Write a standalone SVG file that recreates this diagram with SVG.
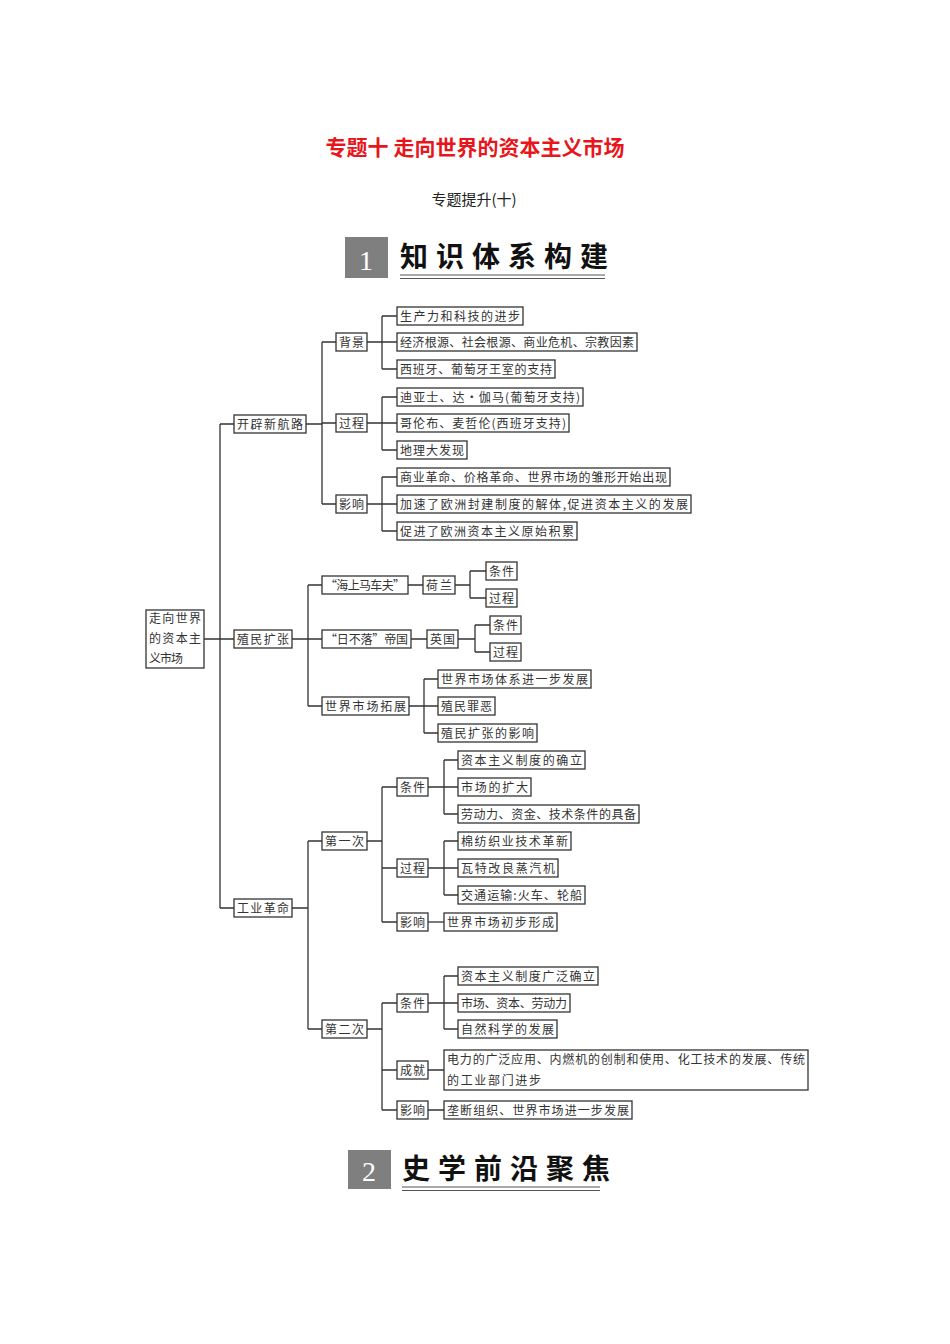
<svg xmlns="http://www.w3.org/2000/svg" width="950" height="1344" viewBox="0 0 950 1344">
<style>
.b{fill:#fff;stroke:#333;stroke-width:1.3}
.t{font-family:"Noto Sans CJK SC","Noto Sans CJK JP",sans-serif;font-size:12px;fill:#333}
.c{fill:none;stroke:#333;stroke-width:1.3}
.h{font-family:"Noto Sans CJK SC",sans-serif;font-size:28px;font-weight:bold;fill:#111;letter-spacing:8px}
</style>
<rect width="950" height="1344" fill="#fff"/>
<text x="475" y="155" text-anchor="middle" font-family="Noto Sans CJK SC,sans-serif" font-size="21" font-weight="bold" fill="#e8151b">专题十  走向世界的资本主义市场</text>
<text x="474" y="205" text-anchor="middle" font-family="Noto Sans CJK SC,sans-serif" font-size="15" fill="#222">专题提升(十)</text>
<g id="header1">
<rect x="345" y="237" width="43" height="41" fill="#7f7f7f"/>
<text x="366" y="270" text-anchor="middle" font-family="Liberation Serif,serif" font-size="28" fill="#fff">1</text>
<text x="400" y="267" class="h">知识体系构建</text>
<line x1="400" y1="275" x2="605" y2="275" stroke="#555" stroke-width="1.2"/>
<line x1="400" y1="278.5" x2="605" y2="278.5" stroke="#555" stroke-width="1.2"/>
</g>
<g id="header2">
<rect x="348" y="1150" width="43" height="39" fill="#7f7f7f"/>
<text x="369" y="1181" text-anchor="middle" font-family="Liberation Serif,serif" font-size="28" fill="#fff">2</text>
<text x="402" y="1179" class="h">史学前沿聚焦</text>
<line x1="402" y1="1187" x2="600" y2="1187" stroke="#555" stroke-width="1.2"/>
<line x1="402" y1="1190.5" x2="600" y2="1190.5" stroke="#555" stroke-width="1.2"/>
</g>
<g id="connectors" class="c">
<path d="M204 639H220M220 424V908M220 424H234M220 639H234M220 908H234"/>
<path d="M306 424H322M322 342V504M322 342H336M322 504H336M322 423H336"/>
<path d="M367 342H382M382 316V369M382 316H397M382 342H397M382 369H397"/>
<path d="M367 423H382M382 397V450M382 397H397M382 423H397M382 450H397"/>
<path d="M367 504H382M382 477V531M382 477H397M382 504H397M382 531H397"/>
<path d="M292 639H308M308 585V706M308 585H322M308 639H322M308 706H322"/>
<path d="M408 585H423M455 585H470M470 571V598M470 571H486M470 598H486"/>
<path d="M411 639H427M458 639H475M475 625V652M475 625H490M475 652H490"/>
<path d="M409 706H424M424 679V733M424 679H438M424 706H438M424 733H438"/>
<path d="M292 908H308M308 841V1029M308 841H322M308 1029H322"/>
<path d="M367 841H382M382 787V922M382 787H397M382 868H397M382 922H397"/>
<path d="M428 787H444M444 760V814M444 760H458M444 787H458M444 814H458"/>
<path d="M428 868H444M444 841V895M444 841H458M444 868H458M444 895H458"/>
<path d="M428 922H444"/>
<path d="M367 1029H382M382 1003V1110M382 1003H397M382 1070H397M382 1110H397"/>
<path d="M428 1003H444M444 976V1029M444 976H458M444 1003H458M444 1029H458"/>
<path d="M428 1070H444M428 1110H444"/>
</g>
<g id="root"><rect class="b" x="146" y="610" width="58" height="58"/><text class="t" x="149" y="623" textLength="52">走向世界</text><text class="t" x="149" y="643" textLength="52">的资本主</text><text class="t" x="149" y="663" textLength="34">义市场</text></g>
<g id="n1"><rect class="b" x="234" y="415" width="72" height="18"/><text class="t" x="237" y="428.5" textLength="66">开辟新航路</text></g>
<g id="n2"><rect class="b" x="234" y="630" width="58" height="18"/><text class="t" x="237" y="643.5" textLength="52">殖民扩张</text></g>
<g id="n3"><rect class="b" x="234" y="899" width="58" height="18"/><text class="t" x="237" y="912.5" textLength="52">工业革命</text></g>
<g id="n11"><rect class="b" x="336" y="333" width="31" height="18"/><text class="t" x="339" y="346.5" textLength="25">背景</text></g>
<g id="n12"><rect class="b" x="336" y="414" width="31" height="18"/><text class="t" x="339" y="427.5" textLength="25">过程</text></g>
<g id="n13"><rect class="b" x="336" y="495" width="31" height="18"/><text class="t" x="339" y="508.5" textLength="25">影响</text></g>
<g id="l1"><rect class="b" x="397" y="307" width="126" height="18"/><text class="t" x="400" y="320.5" textLength="120">生产力和科技的进步</text></g>
<g id="l2"><rect class="b" x="397" y="333" width="240" height="18"/><text class="t" x="400" y="346.5" textLength="234">经济根源、社会根源、商业危机、宗教因素</text></g>
<g id="l3"><rect class="b" x="397" y="360" width="158" height="18"/><text class="t" x="400" y="373.5" textLength="152">西班牙、葡萄牙王室的支持</text></g>
<g id="l4"><rect class="b" x="397" y="388" width="186" height="18"/><text class="t" x="400" y="401.5" textLength="180">迪亚士、达・伽马(葡萄牙支持)</text></g>
<g id="l5"><rect class="b" x="397" y="414" width="172" height="18"/><text class="t" x="400" y="427.5" textLength="166">哥伦布、麦哲伦(西班牙支持)</text></g>
<g id="l6"><rect class="b" x="397" y="441" width="70" height="18"/><text class="t" x="400" y="454.5" textLength="64">地理大发现</text></g>
<g id="l7"><rect class="b" x="397" y="468" width="273" height="18"/><text class="t" x="400" y="481.5" textLength="267">商业革命、价格革命、世界市场的雏形开始出现</text></g>
<g id="l8"><rect class="b" x="397" y="495" width="294" height="18"/><text class="t" x="400" y="508.5" textLength="288">加速了欧洲封建制度的解体,促进资本主义的发展</text></g>
<g id="l9"><rect class="b" x="397" y="522" width="180" height="18"/><text class="t" x="400" y="535.5" textLength="174">促进了欧洲资本主义原始积累</text></g>
<g id="n21"><rect class="b" x="322" y="576" width="86" height="18"/><text class="t" x="325" y="589.5" textLength="80">“海上马车夫”</text></g>
<g id="n211"><rect class="b" x="423" y="576" width="32" height="18"/><text class="t" x="426" y="589.5" textLength="26">荷兰</text></g>
<g id="n2111"><rect class="b" x="486" y="562" width="31" height="18"/><text class="t" x="489" y="575.5" textLength="25">条件</text></g>
<g id="n2112"><rect class="b" x="486" y="589" width="31" height="18"/><text class="t" x="489" y="602.5" textLength="25">过程</text></g>
<g id="n22"><rect class="b" x="322" y="630" width="89" height="18"/><text class="t" x="325" y="643.5" textLength="83">“日不落”帝国</text></g>
<g id="n221"><rect class="b" x="427" y="630" width="31" height="18"/><text class="t" x="430" y="643.5" textLength="25">英国</text></g>
<g id="n2211"><rect class="b" x="490" y="616" width="31" height="18"/><text class="t" x="493" y="629.5" textLength="25">条件</text></g>
<g id="n2212"><rect class="b" x="490" y="643" width="31" height="18"/><text class="t" x="493" y="656.5" textLength="25">过程</text></g>
<g id="n23"><rect class="b" x="322" y="697" width="87" height="18"/><text class="t" x="325" y="710.5" textLength="81">世界市场拓展</text></g>
<g id="n231"><rect class="b" x="438" y="670" width="153" height="18"/><text class="t" x="441" y="683.5" textLength="147">世界市场体系进一步发展</text></g>
<g id="n232"><rect class="b" x="438" y="697" width="57" height="18"/><text class="t" x="441" y="710.5" textLength="51">殖民罪恶</text></g>
<g id="n233"><rect class="b" x="438" y="724" width="99" height="18"/><text class="t" x="441" y="737.5" textLength="93">殖民扩张的影响</text></g>
<g id="n31"><rect class="b" x="322" y="832" width="45" height="18"/><text class="t" x="325" y="845.5" textLength="39">第一次</text></g>
<g id="n311"><rect class="b" x="397" y="778" width="31" height="18"/><text class="t" x="400" y="791.5" textLength="25">条件</text></g>
<g id="n312"><rect class="b" x="397" y="859" width="31" height="18"/><text class="t" x="400" y="872.5" textLength="25">过程</text></g>
<g id="n313"><rect class="b" x="397" y="913" width="31" height="18"/><text class="t" x="400" y="926.5" textLength="25">影响</text></g>
<g id="m1"><rect class="b" x="458" y="751" width="127" height="18"/><text class="t" x="461" y="764.5" textLength="121">资本主义制度的确立</text></g>
<g id="m2"><rect class="b" x="458" y="778" width="73" height="18"/><text class="t" x="461" y="791.5" textLength="67">市场的扩大</text></g>
<g id="m3"><rect class="b" x="458" y="805" width="181" height="18"/><text class="t" x="461" y="818.5" textLength="175">劳动力、资金、技术条件的具备</text></g>
<g id="m4"><rect class="b" x="458" y="832" width="113" height="18"/><text class="t" x="461" y="845.5" textLength="107">棉纺织业技术革新</text></g>
<g id="m5"><rect class="b" x="458" y="859" width="100" height="18"/><text class="t" x="461" y="872.5" textLength="94">瓦特改良蒸汽机</text></g>
<g id="m6"><rect class="b" x="458" y="886" width="127" height="18"/><text class="t" x="461" y="899.5" textLength="121">交通运输:火车、轮船</text></g>
<g id="m7"><rect class="b" x="444" y="913" width="113" height="18"/><text class="t" x="447" y="926.5" textLength="107">世界市场初步形成</text></g>
<g id="n32"><rect class="b" x="322" y="1020" width="45" height="18"/><text class="t" x="325" y="1033.5" textLength="39">第二次</text></g>
<g id="n321"><rect class="b" x="397" y="994" width="31" height="18"/><text class="t" x="400" y="1007.5" textLength="25">条件</text></g>
<g id="n322"><rect class="b" x="397" y="1061" width="31" height="18"/><text class="t" x="400" y="1074.5" textLength="25">成就</text></g>
<g id="n323"><rect class="b" x="397" y="1101" width="31" height="18"/><text class="t" x="400" y="1114.5" textLength="25">影响</text></g>
<g id="p1"><rect class="b" x="458" y="967" width="140" height="18"/><text class="t" x="461" y="980.5" textLength="134">资本主义制度广泛确立</text></g>
<g id="p2"><rect class="b" x="458" y="994" width="112" height="18"/><text class="t" x="461" y="1007.5" textLength="106">市场、资本、劳动力</text></g>
<g id="p3"><rect class="b" x="458" y="1020" width="99" height="18"/><text class="t" x="461" y="1033.5" textLength="93">自然科学的发展</text></g>
<g id="p4"><rect class="b" x="444" y="1050" width="364" height="40"/><text class="t" x="447" y="1064" textLength="358">电力的广泛应用、内燃机的创制和使用、化工技术的发展、传统</text><text class="t" x="447" y="1085" textLength="94">的工业部门进步</text></g>
<g id="p5"><rect class="b" x="444" y="1101" width="188" height="18"/><text class="t" x="447" y="1114.5" textLength="182">垄断组织、世界市场进一步发展</text></g>
</svg>
